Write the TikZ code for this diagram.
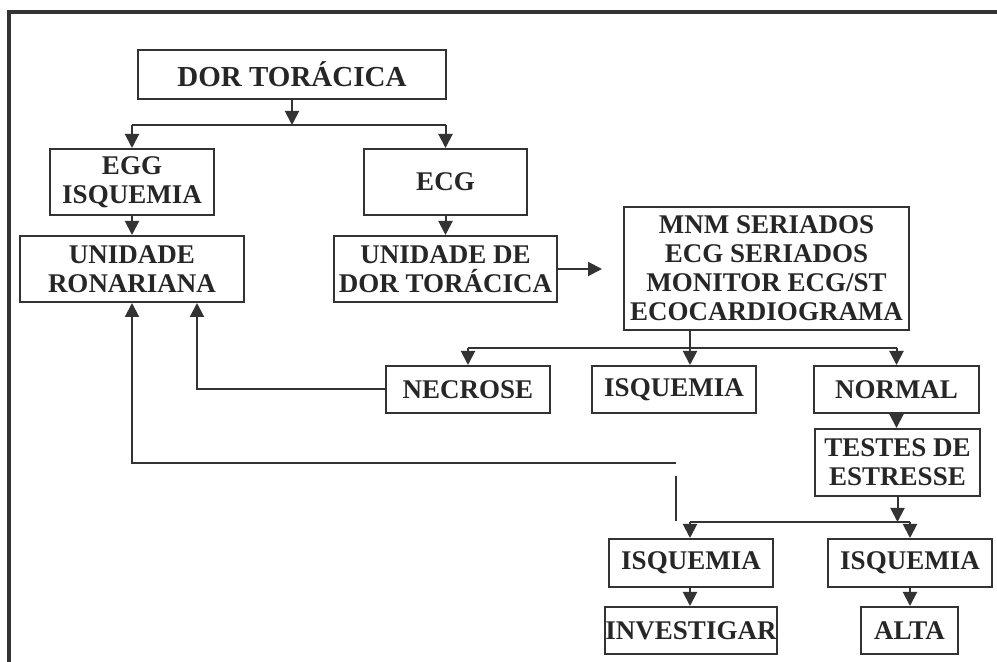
\documentclass[tikz,border=0pt]{standalone}
\usepackage{fontspec}
\setmainfont{Liberation Serif}
\usetikzlibrary{arrows.meta,positioning,calc}

\begin{document}
\begin{tikzpicture}[
    %–––– GLOBAL STYLE TWEAKS ––––
    x=0.5pt, y=-0.5pt,                               % one unit = one pixel, y downwards
    font=\fontsize{13.5}{14.5}\selectfont\bfseries,
    >={Triangle[width=7pt,length=7pt]},
    block/.style = {rectangle, draw=black!80, line width=1pt,
                    align=center, text=black!85,
                    inner xsep=0pt, inner ysep=1pt},
    arrow/.style = {->, draw=black!80, line width=1pt},
    wire/.style  = {draw=black!80, line width=1pt},
    frame/.style = {draw=black!80, line width=2pt},
]
\useasboundingbox (0,0) rectangle (997,662);

%–––– FRAME ––––
\draw[frame] (9,662) -- (9,12) -- (997,12);

%–––– MAIN FLOW ––––
\node (dor)      [block, minimum width=154pt,  minimum height=24.5pt,
                  font=\fontsize{14.5}{15}\selectfont\bfseries] at (292,74.5) {DOR TORÁCICA};

\node (egg)      [block, minimum width=81.75pt, minimum height=33pt]  at (132,182)   {EGG\\ISQUEMIA};
\node (ecg)      [block, minimum width=81.5pt, minimum height=33pt]   at (445.5,182) {ECG};

\node (ur)       [block, minimum width=112pt,  minimum height=33pt]   at (132,269)   {UNIDADE\\RONARIANA};
\node (udt)      [block, minimum width=111.5pt, minimum height=33pt]  at (445.5,269) {UNIDADE DE\\DOR TORÁCICA};

\node (mnm)      [block, minimum width=142.5pt, minimum height=61.5pt] at (766.5,268.5)
                 {MNM SERIADOS\\ECG SERIADOS\\MONITOR ECG/ST\\ECOCARDIOGRAMA};

%–––– RESULTS ––––
\node (necrose)  [block, minimum width=82pt,   minimum height=23.5pt] at (468,389.5)   {NECROSE};
\node (isq)      [block, minimum width=82pt,   minimum height=23.5pt] at (674,389.5)   {ISQUEMIA};
\node (normal)   [block, minimum width=82.5pt, minimum height=23.5pt] at (896.5,389.5) {NORMAL};

\node (testes)   [block, minimum width=82.5pt, minimum height=33.5pt] at (897.5,462.5) {TESTES DE\\ESTRESSE};

\node (isq_inv)  [block, minimum width=82pt,   minimum height=24pt]   at (691,563)     {ISQUEMIA};
\node (isq_alta) [block, minimum width=82pt,   minimum height=24pt]   at (910,563)     {ISQUEMIA};

\node (invest)   [block, minimum width=85pt,   minimum height=23.5pt] at (691,630.5)   {INVESTIGAR};
\node (alta)     [block, minimum width=48.5pt, minimum height=23.5pt] at (909.5,630.5) {ALTA};

%–––– SPLIT POINTS ––––
\coordinate (split_top) at (292,125);
\coordinate (split_mid) at (690,348);
\coordinate (split_low) at (690,522);
\coordinate (back_stub) at (676,521);
\coordinate (back_turn) at (676,463);

%–––– ARROWS ––––
\draw[arrow] (dor) -- (split_top);
\draw[wire]  (split_top -| egg) -- (split_top -| ecg);
\foreach \b in {egg, ecg}
  \draw[arrow] (split_top -| \b) -- (\b);
\foreach \a/\b in {egg/ur, ecg/udt}
  \draw[arrow] (\a) -- (\b);
\draw[arrow, shorten >=10.5pt] (udt.east) -- (udt.east -| mnm.west);

\draw[arrow] (mnm.south -| split_mid) -- (split_mid |- isq.north);
\draw[wire]  (split_mid -| necrose) -- (split_mid -| normal);
\foreach \b in {necrose, normal}
  \draw[arrow] (split_mid -| \b) -- (\b);
\draw[arrow] (necrose.west) -| ([xshift=32.5pt]ur.south);
\draw[arrow] (normal.south) -- (normal.south |- testes.north);

\draw[arrow] (testes.south) -- (testes.south |- split_low);
\draw[wire]  (split_low) -- (split_low -| isq_alta);
\draw[arrow] (split_low) -- (split_low |- isq_inv.north);
\draw[arrow] (split_low -| isq_alta) -- (isq_alta);
\draw[arrow] (isq_inv.south -| split_low) -- (split_low |- invest.north);
\draw[arrow] (isq_alta.south) -- (isq_alta.south |- alta.north);

%–––– BACK TO UNIDADE RONARIANA ––––
\draw[wire]  (back_stub) -- ++(0,-45);
\draw[arrow] (back_turn) -| (ur.south);
\end{tikzpicture}
\end{document}
